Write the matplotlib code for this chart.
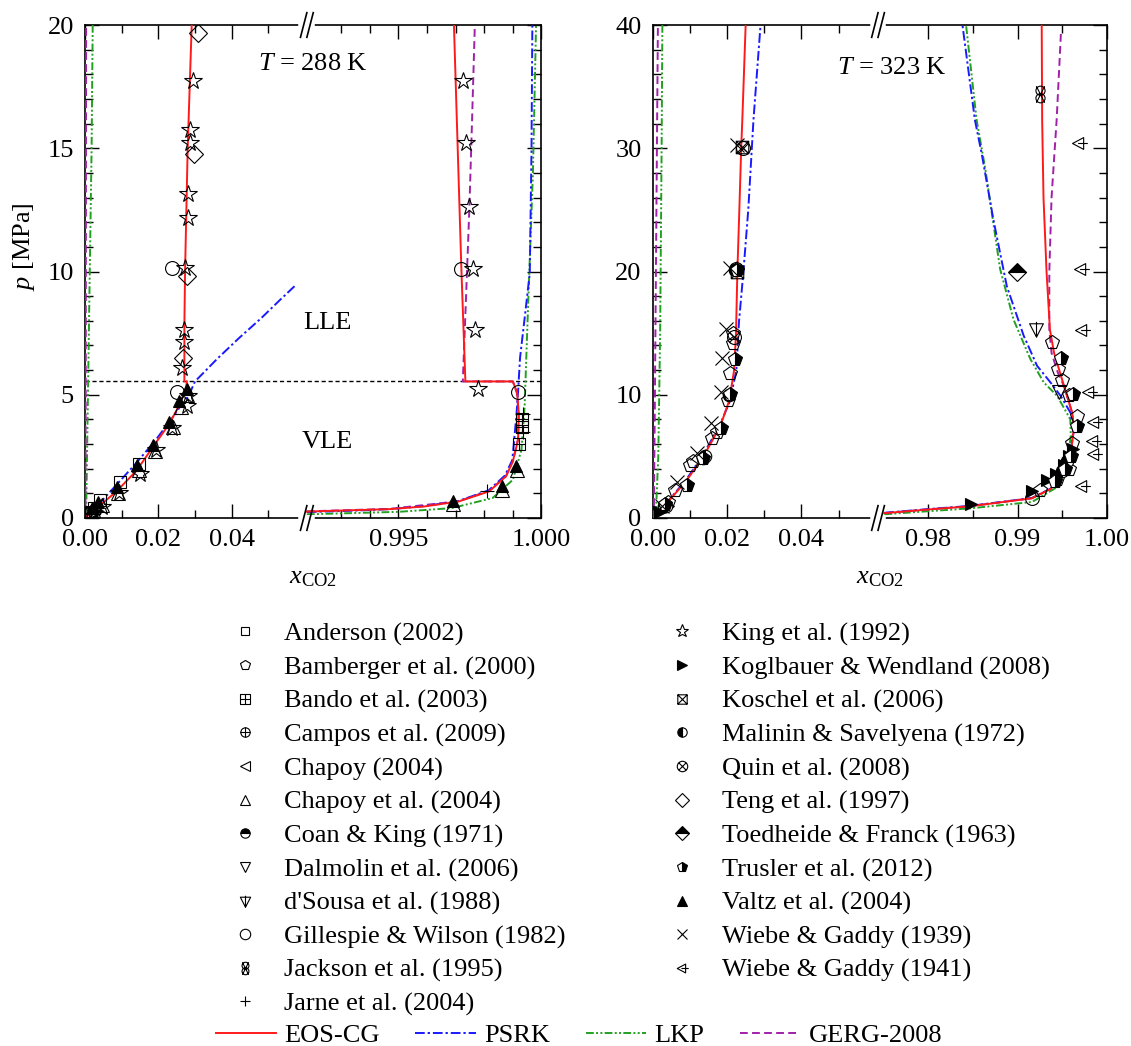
import numpy as np
import matplotlib
matplotlib.use("Agg")
import matplotlib.pyplot as plt
from matplotlib.path import Path
from matplotlib.lines import Line2D
from matplotlib.transforms import blended_transform_factory

plt.rcParams["font.family"] = "Liberation Serif"
plt.rcParams["mathtext.fontset"] = "custom"
plt.rcParams["mathtext.rm"] = "Liberation Serif"
plt.rcParams["mathtext.it"] = "Liberation Serif:italic"
plt.rcParams["font.size"] = 19

# ---------------- T = 288 K : model curves (x_CO2, p/MPa) ----------------
eos288_aq = [(0.0, 0.0), (0.0012, 0.15), (0.0036, 0.45), (0.0086, 1.08), (0.0141, 1.93),
             (0.0186, 2.90), (0.0230, 3.82), (0.0259, 4.63), (0.0275, 5.27), (0.0278, 5.54)]
eos288_lle = [(0.0271, 5.54), (0.0271, 7.8), (0.0273, 10.1), (0.0280, 15.0), (0.0291, 20.0)]
eos288_co2 = [(0.9918, 0.26), (0.9935, 0.32), (0.9947, 0.36), (0.99592, 0.47), (0.9971, 0.67),
              (0.99817, 1.08), (0.99876, 1.69), (0.99900, 2.30), (0.99918, 3.17), (0.99921, 4.20),
              (0.99915, 5.07), (0.99900, 5.54), (0.99734, 5.54), (0.99720, 10.1), (0.99694, 20.0)]
psrk288_aq = [(0.0, 0.0), (0.0012, 0.18), (0.0040, 0.60), (0.0086, 1.35), (0.0138, 2.20),
              (0.0192, 3.15), (0.0235, 4.00), (0.0268, 4.70), (0.0286, 5.07), (0.0300, 5.54),
              (0.0360, 6.45), (0.0420, 7.30), (0.0480, 8.10), (0.0532, 8.85), (0.0574, 9.44)]
psrk288_co2 = [(0.9918, 0.24), (0.9935, 0.30), (0.9947, 0.36), (0.9959, 0.48), (0.9971, 0.69),
               (0.99815, 1.12), (0.99872, 1.72), (0.99898, 2.35), (0.99912, 4.12), (0.99918, 5.10),
               (0.99925, 6.50), (0.99940, 8.00), (0.99959, 9.93), (0.99965, 14.9), (0.99968, 20.0)]
lkp288_aq = [(0.0003, 0.0), (0.0008, 5.0), (0.0013, 10.0), (0.0018, 15.0), (0.0021, 20.0)]
lkp288_co2 = [(0.9918, 0.15), (0.9950, 0.25), (0.99686, 0.40), (0.99829, 0.81), (0.9990, 1.55),
              (0.9993, 2.77), (0.99941, 4.52), (0.99953, 8.58), (0.9997, 14.0), (0.99981, 20.0)]
gerg288_aq = [(0.0001, 0.0), (0.0002, 5.0), (0.0003, 20.0)]
gerg288_co2 = [(0.9918, 0.27), (0.9947, 0.37), (0.9971, 0.68), (0.99817, 1.10), (0.99876, 1.70),
               (0.99900, 2.32), (0.99918, 3.20), (0.99920, 4.20), (0.99914, 5.07), (0.99900, 5.54),
               (0.99725, 5.54), (0.99740, 10.1), (0.99748, 12.6), (0.99757, 16.0), (0.99767, 20.0)]
p_three_phase_288 = 5.54

# ---------------- T = 288 K : experimental data ----------------
anderson_288 = [(0.0025, 0.40), (0.0042, 0.75), (0.0095, 1.48), (0.0146, 2.20)]
bando_288 = [(0.0015, 0.22), (0.99922, 3.00), (0.99932, 3.70), (0.99932, 4.00)]
campos_288 = [(0.0012, 0.15), (0.0028, 0.33)]
chapoy_etal_288 = [(0.0023, 0.31), (0.0045, 0.54), (0.0091, 1.01), (0.0148, 1.93), (0.0191, 2.70),
                   (0.0239, 3.69), (0.0262, 4.50), (0.0278, 5.00),
                   (0.99689, 0.55), (0.99862, 1.15), (0.99914, 1.95)]
dalmolin_288 = [(0.0020, 0.20)]
gillespie_288 = [(0.0250, 5.10), (0.0238, 10.13), (0.99720, 10.10), (0.99918, 5.10)]
jarne_288 = [(0.0030, 0.30), (0.99811, 1.08), (0.99936, 3.50), (0.99935, 4.20)]
king_288 = [(0.0045, 0.45), (0.0092, 1.00), (0.0150, 1.80), (0.0194, 2.75), (0.0238, 3.65),
            (0.0278, 4.55), (0.0280, 4.95), (0.0264, 6.08), (0.0271, 7.16), (0.0271, 7.63),
            (0.0273, 10.13), (0.0282, 12.16), (0.0282, 13.15), (0.02864, 15.23), (0.02864, 15.74),
            (0.02937, 17.73),
            (0.99779, 5.23), (0.99766, 7.63), (0.99761, 10.10), (0.99746, 12.63), (0.99736, 15.23),
            (0.99725, 17.74)]
teng_288 = [(0.0268, 6.48), (0.0277, 9.82), (0.0297, 14.77), (0.0309, 19.66)]
valtz_288 = [(0.0018, 0.41), (0.0036, 0.63), (0.0086, 1.24), (0.0143, 2.16), (0.0186, 2.97),
             (0.0230, 3.88), (0.0257, 4.73), (0.0277, 5.23),
             (0.99689, 0.67), (0.99862, 1.28), (0.99912, 2.12)]

# ---------------- T = 323 K : model curves ----------------
eos323_aq = [(0.0, 0.0), (0.0015, 0.45), (0.00447, 1.44), (0.0090, 3.00), (0.01376, 5.05),
             (0.01818, 7.46), (0.02062, 9.56), (0.02188, 11.97), (0.0224, 14.98), (0.02277, 20.0),
             (0.0233, 25.0), (0.0238, 30.0), (0.0241, 32.3), (0.0250, 40.0)]
eos323_co2 = [(0.9751, 0.39), (0.9800, 0.69), (0.98467, 0.95), (0.99161, 1.60), (0.99368, 2.35),
              (0.9953, 3.70), (0.99595, 5.30), (0.9963, 7.20), (0.99612, 8.50), (0.9952, 10.7),
              (0.99408, 13.4), (0.99362, 15.27), (0.99324, 20.0), (0.9929, 26.0), (0.99275, 32.3),
              (0.9927, 40.0)]
psrk323_aq = [(0.0, 0.0), (0.0015, 0.45), (0.0045, 1.50), (0.0090, 3.10), (0.0135, 5.10),
              (0.0180, 7.50), (0.0208, 9.50), (0.0225, 12.0), (0.0232, 15.9), (0.0244, 20.0),
              (0.0257, 25.0), (0.0271, 32.3), (0.0290, 40.0)]
psrk323_co2 = [(0.9751, 0.42), (0.9800, 0.72), (0.98467, 0.98), (0.99161, 1.62), (0.99368, 2.38),
               (0.9953, 3.70), (0.99595, 5.30), (0.9962, 7.00), (0.99595, 8.50), (0.99482, 9.90),
               (0.99368, 11.0), (0.99218, 12.35), (0.99068, 14.8), (0.9888, 18.8), (0.9873, 24.2),
               (0.98598, 29.6), (0.98523, 32.3), (0.98384, 40.0)]
lkp323_aq = [(0.0008, 0.0), (0.0015, 5.0), (0.0020, 15.0), (0.0024, 30.0), (0.0026, 40.0)]
lkp323_co2 = [(0.9751, 0.30), (0.9800, 0.55), (0.98467, 0.78), (0.99161, 1.30), (0.99444, 2.51),
              (0.9955, 3.97), (0.99595, 6.70), (0.9959, 8.00), (0.99444, 9.90), (0.99293, 11.0),
              (0.99143, 12.9), (0.98955, 16.1), (0.98805, 20.2), (0.9864, 28.3), (0.98542, 32.3),
              (0.98424, 40.0)]
gerg323_aq = [(0.0003, 0.0), (0.0006, 10.0), (0.0010, 25.0), (0.0014, 40.0)]
gerg323_co2 = [(0.9751, 0.40), (0.9800, 0.70), (0.98467, 0.96), (0.99161, 1.61), (0.99368, 2.36),
               (0.9953, 3.70), (0.99595, 5.30), (0.9963, 7.20), (0.99612, 8.50), (0.9952, 10.7),
               (0.9945, 11.8), (0.9938, 13.4), (0.99355, 15.27), (0.99355, 20.0), (0.9938, 26.0),
               (0.99437, 32.3), (0.99486, 39.5)]

# ---------------- T = 323 K : experimental data ----------------
bamberger_323 = [(0.0040, 1.30), (0.0061, 2.25), (0.0100, 4.27), (0.0108, 4.60), (0.0160, 6.50),
                 (0.0174, 7.00), (0.0203, 9.56), (0.0208, 11.73), (0.0216, 14.2), (0.0215, 15.0),
                 (0.9925, 2.30), (0.9944, 3.20), (0.9958, 4.00), (0.9961, 6.10), (0.99669, 8.30),
                 (0.9958, 10.0), (0.9950, 11.2), (0.99451, 12.1), (0.9938, 14.3)]
coan_323 = [(0.0030, 1.00), (0.0135, 4.90)]
dalmolin_323 = [(0.99464, 10.2)]
dsousa_323 = [(0.99211, 15.3)]
gillespie_323 = [(0.9916, 1.60)]
jackson_323 = [(0.99252, 34.4)]
koglbauer_323 = [(0.0020, 0.50), (0.0040, 1.00), (0.98485, 1.10), (0.99162, 2.20), (0.99324, 3.10),
                 (0.9943, 3.60), (0.9952, 4.30), (0.9958, 5.00), (0.9962, 5.60)]
koschel_323 = [(0.0240, 30.1), (0.0228, 20.0)]
malinin_323 = [(0.0035, 1.00), (0.0140, 5.00), (0.0205, 10.0), (0.0222, 20.1), (0.9950, 3.80),
               (0.9955, 4.60)]
quin_323 = [(0.0243, 30.0), (0.0223, 20.2), (0.0218, 14.7)]
toedheide_323 = [(0.98993, 19.97)]
trusler_323 = [(0.0033, 1.15), (0.0091, 2.68), (0.0136, 4.85), (0.0184, 7.30), (0.0208, 10.1),
               (0.0222, 12.9), (0.0227, 20.1),
               (0.9942, 3.00), (0.9953, 4.00), (0.9960, 5.00), (0.99669, 7.50), (0.99625, 10.05),
               (0.99481, 13.0)]
wiebe39_323 = [(0.0025, 1.00), (0.00645, 2.95), (0.0118, 5.24), (0.0156, 7.68), (0.0183, 10.25),
               (0.01855, 13.0), (0.0197, 15.3), (0.0207, 20.3), (0.02275, 30.25)]
wiebe41_323 = [(0.99726, 2.58), (0.99858, 5.20), (0.99839, 6.22), (0.99858, 7.76), (0.9980, 10.19),
               (0.99726, 15.27), (0.99707, 20.2), (0.99689, 30.39)]

# ---------------- marker shapes ----------------
M, L, C = Path.MOVETO, Path.LINETO, Path.CLOSEPOLY


def poly(verts):
    return Path(verts + [verts[0]], [M] + [L] * (len(verts) - 1) + [C])


def segs(*lines):
    v, c = [], []
    for a, b in lines:
        v += [a, b]
        c += [M, L]
    return Path(v, c)


square = poly([(-1, -1), (1, -1), (1, 1), (-1, 1)])
circle = Path.unit_circle()
d = 0.707
sq_plus = Path.make_compound_path(square, segs(((-1, 0), (1, 0)), ((0, -1), (0, 1))))
sq_cross = Path.make_compound_path(square, segs(((-1, -1), (1, 1)), ((-1, 1), (1, -1))))
ci_plus = Path.make_compound_path(circle, segs(((-1, 0), (1, 0)), ((0, -1), (0, 1))))
ci_cross = Path.make_compound_path(circle, segs(((-d, -d), (d, d)), ((-d, d), (d, -d))))
c_up = Path(circle.vertices * 0.55 + [0, 0.45], circle.codes)
c_dn = Path(circle.vertices * 0.55 - [0, 0.45], circle.codes)
double_cross = Path.make_compound_path(c_up, c_dn, segs(((-0.5, -1), (0.5, 1)), ((-0.5, 1), (0.5, -1))))
tri_down_bar = Path.make_compound_path(poly([(-0.9, 0.75), (0.9, 0.75), (0, -1)]),
                                       segs(((0, 1.0), (0, -1))))
tri_left_tail = Path.make_compound_path(poly([(-1, 0), (0.6, 0.85), (0.6, -0.85)]),
                                        segs(((-0.2, 0), (1.2, 0))))

half = dict(mfc="black", markerfacecoloralt="white")
STYLES = {
    "Anderson (2002)": dict(marker="s", mfc="none", ms=8),
    "Bamberger et al. (2000)": dict(marker="p", mfc="none", ms=10),
    "Bando et al. (2003)": dict(marker=sq_plus, mfc="none", ms=9),
    "Campos et al. (2009)": dict(marker=ci_plus, mfc="none", ms=9),
    "Chapoy (2004)": dict(marker="<", mfc="none", ms=9),
    "Chapoy et al. (2004)": dict(marker="^", mfc="none", ms=10),
    "Coan & King (1971)": dict(marker="o", fillstyle="top", ms=9, **half),
    "Dalmolin et al. (2006)": dict(marker="v", mfc="none", ms=10),
    "d'Sousa et al. (1988)": dict(marker=tri_down_bar, mfc="none", ms=11),
    "Gillespie & Wilson (1982)": dict(marker="o", mfc="none", ms=10),
    "Jackson et al. (1995)": dict(marker=double_cross, mfc="none", ms=12),
    "Jarne et al. (2004)": dict(marker="+", ms=10),
    "King et al. (1992)": dict(marker="*", mfc="none", ms=13),
    "Koglbauer & Wendland (2008)": dict(marker=">", mfc="black", ms=9),
    "Koschel et al. (2006)": dict(marker=sq_cross, mfc="none", ms=9),
    "Malinin & Savelyena (1972)": dict(marker="o", fillstyle="left", ms=9, **half),
    "Quin et al. (2008)": dict(marker=ci_cross, mfc="none", ms=10),
    "Teng et al. (1997)": dict(marker="D", mfc="none", ms=9),
    "Toedheide & Franck (1963)": dict(marker="D", fillstyle="top", ms=9, **half),
    "Trusler et al. (2012)": dict(marker="p", fillstyle="right", ms=10, **half),
    "Valtz et al. (2004)": dict(marker="^", mfc="black", ms=9),
    "Wiebe & Gaddy (1939)": dict(marker="x", ms=10),
    "Wiebe & Gaddy (1941)": dict(marker=tri_left_tail, mfc="none", ms=12),
}

MODELS = {
    "EOS-CG": dict(color="#ff1a1a", ls="-", lw=1.4),
    "PSRK": dict(color="#1a1aff", ls=(0, (5, 1.5, 1.2, 1.5)), lw=1.4),
    "LKP": dict(color="#22a022", ls=(0, (4, 1.2, 1, 1.2, 1, 1.2)), lw=1.4),
    "GERG-2008": dict(color="#a020a8", ls=(0, (4, 2.2)), lw=1.4),
}


def set_broken_x(ax, x_cut, x_resume, frac):
    xs = [0.0, x_cut, x_resume, 1.0]
    us = [0.0, frac, frac + 1e-7, 1.0]
    ax.set_xscale("function", functions=(lambda x: np.interp(x, xs, us),
                                         lambda u: np.interp(u, us, xs)))
    ax.set_xlim(0.0, 1.0)


def curve(ax, pts, model):
    x, p = zip(*pts)
    ax.plot(x, p, zorder=3, **MODELS[model])


def points(ax, pts, name):
    x, p = zip(*pts)
    ax.plot(x, p, ls="none", color="black", mec="black", mew=0.8, zorder=4, **STYLES[name])


def break_marks(ax, xb):
    for yb in (0.0, 1.0):
        ax.plot([xb - 0.012, xb + 0.012], [yb, yb], color="white", lw=4,
                transform=ax.transAxes, clip_on=False, zorder=10)
        for off in (-0.007, 0.007):
            ax.plot([xb + off - 0.007, xb + off + 0.007], [yb - 0.025, yb + 0.025],
                    color="black", lw=1.2, transform=ax.transAxes, clip_on=False, zorder=11)


def style_axes(ax, pmax, pmajor, pminor):
    ax.set_ylim(0, pmax)
    ax.set_yticks(np.arange(0, pmax + 0.1, pmajor))
    ax.set_yticks(np.arange(0, pmax + 0.1, pminor), minor=True)
    ax.tick_params(which="both", direction="in", top=True, right=True, width=1.0)
    ax.tick_params(which="major", length=10, pad=8)
    ax.tick_params(which="minor", length=5.5)
    for s in ax.spines.values():
        s.set_linewidth(1.2)
    ax.set_xlabel(r"$x_{\mathrm{CO2}}$")
    ax.xaxis.set_label_coords(0.5, -0.1)


fig = plt.figure(figsize=(11.31, 10.46), dpi=100)
ax1 = fig.add_axes([85 / 1131, 1 - 518 / 1046, 456.5 / 1131, 493 / 1046])
ax2 = fig.add_axes([652.7 / 1131, 1 - 518 / 1046, 454.3 / 1131, 493 / 1046])

# ---------------- left panel: 288 K ----------------
set_broken_x(ax1, 0.0605, 0.9918, 0.486)
for pts in (lkp288_aq, lkp288_co2):
    curve(ax1, pts, "LKP")
for pts in (gerg288_aq, gerg288_co2):
    curve(ax1, pts, "GERG-2008")
for pts in (psrk288_aq, psrk288_co2):
    curve(ax1, pts, "PSRK")
for pts in (eos288_aq, eos288_lle, eos288_co2):
    curve(ax1, pts, "EOS-CG")
ax1.axhline(p_three_phase_288, color="black", ls=(0, (3, 2)), lw=1.0, zorder=2)
for name, pts in [("Anderson (2002)", anderson_288), ("Bando et al. (2003)", bando_288),
                  ("Campos et al. (2009)", campos_288), ("Chapoy et al. (2004)", chapoy_etal_288),
                  ("Dalmolin et al. (2006)", dalmolin_288), ("Gillespie & Wilson (1982)", gillespie_288),
                  ("Jarne et al. (2004)", jarne_288), ("King et al. (1992)", king_288),
                  ("Teng et al. (1997)", teng_288), ("Valtz et al. (2004)", valtz_288)]:
    points(ax1, pts, name)
style_axes(ax1, 20, 5, 1)
ax1.set_xticks([0.0, 0.02, 0.04, 0.995, 1.0], ["0.00", "0.02", "0.04", "0.995", "1.000"])
ax1.set_xticks([0.01, 0.03, 0.05, 0.993, 0.994, 0.996, 0.997, 0.998, 0.999], minor=True)
ax1.set_ylabel(r"$p$ [MPa]")
ax1.yaxis.set_label_coords(-0.105, 0.55)
break_marks(ax1, 0.486)
bt1 = blended_transform_factory(ax1.transAxes, ax1.transData)
ax1.text(0.5, 0.92, r"$T$ = 288 K", transform=ax1.transAxes, ha="center", va="center")
ax1.text(0.53, 7.9, "LLE", transform=bt1, ha="center", va="center")
ax1.text(0.53, 3.1, "VLE", transform=bt1, ha="center", va="center")

# ---------------- right panel: 323 K ----------------
set_broken_x(ax2, 0.0606, 0.9744, 0.496)
for pts in (lkp323_aq, lkp323_co2):
    curve(ax2, pts, "LKP")
for pts in (gerg323_aq, gerg323_co2):
    curve(ax2, pts, "GERG-2008")
for pts in (psrk323_aq, psrk323_co2):
    curve(ax2, pts, "PSRK")
for pts in (eos323_aq, eos323_co2):
    curve(ax2, pts, "EOS-CG")
for name, pts in [("Bamberger et al. (2000)", bamberger_323), ("Coan & King (1971)", coan_323),
                  ("Dalmolin et al. (2006)", dalmolin_323), ("d'Sousa et al. (1988)", dsousa_323),
                  ("Gillespie & Wilson (1982)", gillespie_323), ("Jackson et al. (1995)", jackson_323),
                  ("Koglbauer & Wendland (2008)", koglbauer_323), ("Koschel et al. (2006)", koschel_323),
                  ("Malinin & Savelyena (1972)", malinin_323), ("Quin et al. (2008)", quin_323),
                  ("Toedheide & Franck (1963)", toedheide_323), ("Trusler et al. (2012)", trusler_323),
                  ("Wiebe & Gaddy (1939)", wiebe39_323), ("Wiebe & Gaddy (1941)", wiebe41_323)]:
    points(ax2, pts, name)
style_axes(ax2, 40, 10, 2)
ax2.set_xticks([0.0, 0.02, 0.04, 0.98, 0.99, 1.0], ["0.00", "0.02", "0.04", "0.98", "0.99", "1.00"])
ax2.set_xticks([0.01, 0.03, 0.05, 0.985, 0.995], minor=True)
break_marks(ax2, 0.496)
ax2.text(0.527, 0.912, r"$T$ = 323 K", transform=ax2.transAxes, ha="center", va="center")

# ---------------- legends ----------------
names = list(STYLES)


def handle(name):
    st = dict(STYLES[name])
    return Line2D([], [], ls="none", color="black", mec="black", mew=0.8, **st)


leg_kw = dict(frameon=False, fontsize=19, handlelength=1.5, handletextpad=0.75,
              labelspacing=0.37, borderpad=0, borderaxespad=0, markerscale=0.75)
fig.legend([handle(n) for n in names[:12]], names[:12], loc="upper left",
           bbox_to_anchor=(225 / 1131, 1 - 622 / 1046), **leg_kw)
fig.legend([handle(n) for n in names[12:]], names[12:], loc="upper left",
           bbox_to_anchor=(662.6 / 1131, 1 - 622 / 1046), **leg_kw)
fig.legend([Line2D([], [], **MODELS[m]) for m in MODELS], list(MODELS), loc="center left",
           bbox_to_anchor=(215.7 / 1131, 1 - 1035 / 1046), ncol=4, frameon=False, fontsize=19,
           handlelength=2.3, handletextpad=0.3, columnspacing=1.35, borderpad=0, borderaxespad=0)

fig.savefig("out.png", dpi=100)
